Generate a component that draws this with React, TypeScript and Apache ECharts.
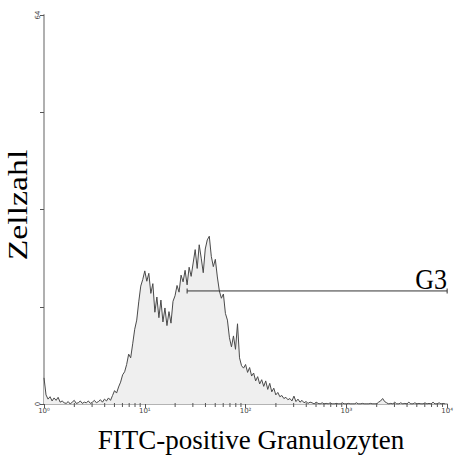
import React, { useEffect, useRef } from "react";
import * as echarts from "echarts";

// Histogram channels: 50 channels per decade, from 10^0 to 10^4
const channelsPerDecade = 50;
const counts = [
  4.3, 1.5, 0.8, 1.2, 0.5, 1.0, 0.6, 1.1, 0.3, 0.5,
  0.2, 0.1, 0.4, 0.0, 0.3, 0.6, 0.1, 0.2, 0.5, 0.1,
  0.3, 0.2, 0.5, 0.1, 0.3, 0.6, 0.2, 0.4, 0.7, 0.3,
  0.8, 0.5, 1.0, 0.6, 1.4, 2.2, 1.8, 2.8, 3.6, 4.8,
  5.3, 6.5, 8.2, 7.6, 9.9, 12.3, 13.8, 16.8, 19.4, 20.5,
  21.9, 20.2, 21.5, 18.2, 19.8, 15.1, 17.6, 14.2, 17.1, 13.5,
  15.8, 12.9, 15.2, 13.3, 16.9, 17.8, 19.5, 18.4, 21.2, 20.1,
  22.0, 19.6, 22.5, 21.0, 23.2, 25.4, 22.3, 26.2, 24.0, 21.6,
  25.5, 27.0, 27.6, 24.3, 22.6, 23.8, 20.9, 18.6, 17.4, 18.1,
  14.9, 13.8, 10.9, 9.4, 11.2, 9.0, 13.2, 7.6, 6.3, 5.9,
  6.5, 5.2, 6.0, 4.6, 5.1, 3.8, 4.5, 3.3, 4.0, 2.9,
  3.8, 2.4, 3.4, 2.0, 2.6, 1.5, 1.9, 1.2, 1.4, 0.9,
  1.1, 0.7, 0.9, 0.5, 1.3, 0.4, 0.8, 0.3, 0.6, 0.2,
  0.4, 0.1, 0.3, 0.2, 0.0, 0.3, 0.1, 0.0, 0.2, 0.0,
  0.1, 0.0, 0.2, 0.0, 0.0, 0.1, 0.0, 0.0, 0.2, 0.0,
  0.0, 0.1, 0.0, 0.0, 0.0, 0.2, 0.0, 0.0, 0.1, 0.0,
  0.0, 0.0, 0.1, 0.0, 0.0, 0.0, 0.3, 0.5, 0.9, 0.4,
  0.2, 0.0, 0.1, 0.0, 0.3, 0.0, 0.0, 0.2, 0.0, 0.1,
  0.0, 0.3, 0.0, 0.0, 0.2, 0.0, 0.1, 0.0, 0.0, 0.2,
  0.0, 0.1, 0.0, 0.3, 0.0, 0.0, 0.2, 0.0, 0.1, 0.0,
];

const decadeExponents = [0, 1, 2, 3, 4];
const decadeLabels = ["10⁰", "10¹", "10²", "10³", "10⁴"];
const minorMultipliers = [2, 3, 4, 5, 6, 7, 8, 9];

const gateName = "G3";
const gateStart = 1.42; // log10 units
const gateEnd = 4.0;
const gateLevel = 18.6;

const yMax = 64;
const yInterval = 16;

const xTitle = "FITC-positive Granulozyten";
const yTitle = "Zellzahl";

export default function App() {
  const ref = useRef<HTMLDivElement>(null);

  useEffect(() => {
    if (!ref.current) return;
    const chart = echarts.init(ref.current, undefined, { renderer: "svg" });

    const histData = counts.map((c, i) => [i / channelsPerDecade, c]);
    const minorTicks: number[] = [];
    for (let d = 0; d < decadeExponents.length - 1; d++) {
      for (const m of minorMultipliers) minorTicks.push(d + Math.log10(m));
    }

    const serif = "'Liberation Serif', 'Times New Roman', serif";

    chart.setOption({
      animation: false,
      backgroundColor: "#ffffff",
      grid: { left: 44, right: 1, top: 15, bottom: 53, containLabel: false },
      xAxis: {
        type: "value",
        min: 0,
        max: 4,
        interval: 1,
        axisLine: { show: true, lineStyle: { color: "#9a9a9a", width: 1.5 } },
        axisTick: { show: true, length: 4, lineStyle: { color: "#555" } },
        axisLabel: {
          show: true,
          formatter: (v: number) => decadeLabels[Math.round(v)] ?? "",
          fontSize: 7,
          color: "#444",
          margin: 3,
          fontFamily: "DejaVu Sans",
        },
        splitLine: { show: false },
      },
      yAxis: {
        type: "value",
        min: 0,
        max: yMax,
        interval: yInterval,
        axisLine: { show: true, lineStyle: { color: "#b0b0b0", width: 2 } },
        axisTick: { show: true, length: 4, lineStyle: { color: "#555" } },
        axisLabel: {
          show: true,
          formatter: (v: number) => (v === 0 || v === yMax ? String(v) : ""),
          fontSize: 7,
          color: "#444",
          margin: 3,
          rotate: 90,
          fontFamily: "DejaVu Sans",
        },
        splitLine: { show: false },
      },
      series: [
        {
          type: "line",
          data: histData,
          symbol: "none",
          lineStyle: { color: "#4a4a4a", width: 1 },
          areaStyle: { color: "#efefef", opacity: 1 },
          z: 2,
        },
        {
          type: "line",
          data: [
            [gateStart, gateLevel],
            {
              value: [gateEnd, gateLevel],
            },
          ],
          symbol: "rect",
          symbolSize: [1, 5],
          itemStyle: { color: "#333" },
          lineStyle: { color: "#333", width: 1 },
          clip: false,
          z: 3,
        },
        {
          type: "custom",
          clip: false,
          data: minorTicks.map((t) => [t, 0]),
          renderItem: (params: any, api: any) => {
            const p = api.coord([api.value(0), 0]);
            return {
              type: "line",
              shape: { x1: p[0], y1: p[1] - 1, x2: p[0], y2: p[1] + 3 },
              style: { stroke: "#555", lineWidth: 1 },
            };
          },
          z: 4,
        },
      ],
      graphic: [
        {
          type: "text",
          x: 18,
          y: 205,
          rotation: Math.PI / 2,
          scaleX: 1.25,
          style: {
            text: yTitle,
            font: `27px ${serif}`,
            fill: "#000",
            textAlign: "center",
            textVerticalAlign: "middle",
          },
        },
        {
          type: "text",
          x: 251,
          y: 440,
          style: {
            text: xTitle,
            font: `27px ${serif}`,
            fill: "#000",
            textAlign: "center",
            textVerticalAlign: "middle",
          },
        },
        {
          type: "text",
          x: 447,
          y: 279,
          scaleY: 1.15,
          style: {
            text: gateName,
            font: `26px ${serif}`,
            fill: "#000",
            textAlign: "right",
            textVerticalAlign: "middle",
          },
        },
      ],
    });

    return () => chart.dispose();
  }, []);

  return <div ref={ref} style={{ width: 456, height: 457, position: "absolute", left: 0, top: 0 }} />;
}
